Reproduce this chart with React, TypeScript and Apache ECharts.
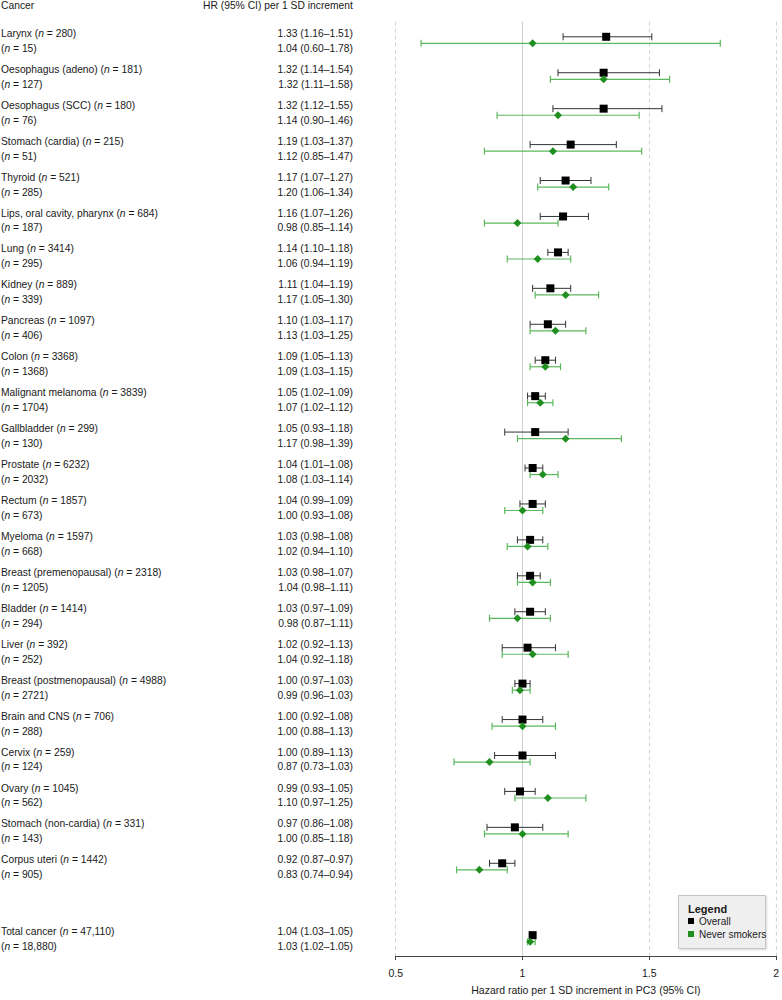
import React, { useEffect, useRef } from "react";
import * as echarts from "echarts";

const cancers = [
  "Larynx", "Oesophagus (adeno)", "Oesophagus (SCC)", "Stomach (cardia)", "Thyroid",
  "Lips, oral cavity, pharynx", "Lung", "Kidney", "Pancreas", "Colon",
  "Malignant melanoma", "Gallbladder", "Prostate", "Rectum", "Myeloma",
  "Breast (premenopausal)", "Bladder", "Liver", "Breast (postmenopausal)", "Brain and CNS",
  "Cervix", "Ovary", "Stomach (non-cardia)", "Corpus uteri", "Total cancer",
];
const nOverall = [
  "280", "181", "180", "215", "521", "684", "3414", "889", "1097", "3368",
  "3839", "299", "6232", "1857", "1597", "2318", "1414", "392", "4988", "706",
  "259", "1045", "331", "1442", "47,110",
];
const nNever = [
  "15", "127", "76", "51", "285", "187", "295", "339", "406", "1368",
  "1704", "130", "2032", "673", "668", "1205", "294", "252", "2721", "288",
  "124", "562", "143", "905", "18,880",
];
const hrOverall = [1.33, 1.32, 1.32, 1.19, 1.17, 1.16, 1.14, 1.11, 1.10, 1.09, 1.05, 1.05, 1.04, 1.04, 1.03, 1.03, 1.03, 1.02, 1.00, 1.00, 1.00, 0.99, 0.97, 0.92, 1.04];
const loOverall = [1.16, 1.14, 1.12, 1.03, 1.07, 1.07, 1.10, 1.04, 1.03, 1.05, 1.02, 0.93, 1.01, 0.99, 0.98, 0.98, 0.97, 0.92, 0.97, 0.92, 0.89, 0.93, 0.86, 0.87, 1.03];
const hiOverall = [1.51, 1.54, 1.55, 1.37, 1.27, 1.26, 1.18, 1.19, 1.17, 1.13, 1.09, 1.18, 1.08, 1.09, 1.08, 1.07, 1.09, 1.13, 1.03, 1.08, 1.13, 1.05, 1.08, 0.97, 1.05];
const hrNever = [1.04, 1.32, 1.14, 1.12, 1.20, 0.98, 1.06, 1.17, 1.13, 1.09, 1.07, 1.17, 1.08, 1.00, 1.02, 1.04, 0.98, 1.04, 0.99, 1.00, 0.87, 1.10, 1.00, 0.83, 1.03];
const loNever = [0.60, 1.11, 0.90, 0.85, 1.06, 0.85, 0.94, 1.05, 1.03, 1.03, 1.02, 0.98, 1.03, 0.93, 0.94, 0.98, 0.87, 0.92, 0.96, 0.88, 0.73, 0.97, 0.85, 0.74, 1.02];
const hiNever = [1.78, 1.58, 1.46, 1.47, 1.34, 1.14, 1.19, 1.30, 1.25, 1.15, 1.12, 1.39, 1.14, 1.08, 1.10, 1.11, 1.11, 1.18, 1.03, 1.13, 1.03, 1.25, 1.18, 0.94, 1.05];
// row slot of each group (Total cancer sits after a gap)
const rowPos = [0, 1, 2, 3, 4, 5, 6, 7, 8, 9, 10, 11, 12, 13, 14, 15, 16, 17, 18, 19, 20, 21, 22, 23, 25];
const xTicks = [0.5, 1, 1.5, 2];
const refValue = 1;

const Y_MIN = -0.42;
const Y_MAX = 25.58;
const NEVER_OFFSET = 0.183;
const FONT = "'Liberation Sans', Arial, Helvetica, sans-serif";
const TEXT_COLOR = "#1a1a1a";
const GREEN_LINE = "#5cb85c";
const GREEN_MARK = "#1f8f1f";

const fmt = (v: number, lo: number, hi: number) =>
  `${v.toFixed(2)} (${lo.toFixed(2)}\u2013${hi.toFixed(2)})`;

export default function App() {
  const ref = useRef<HTMLDivElement>(null);
  useEffect(() => {
    if (!ref.current) return;
    const chart = echarts.init(ref.current, null, { renderer: "svg" });

    const errorBar = (color: string, width: number) =>
      (params: any, api: any) => {
        const y = api.value(2);
        const p1 = api.coord([api.value(0), y]);
        const p2 = api.coord([api.value(1), y]);
        const h = 3.5;
        const st = { stroke: color, lineWidth: width, fill: "none" };
        return {
          type: "group",
          children: [
            { type: "line", shape: { x1: p1[0], y1: p1[1], x2: p2[0], y2: p2[1] }, style: st },
            { type: "line", shape: { x1: p1[0], y1: p1[1] - h, x2: p1[0], y2: p1[1] + h }, style: st },
            { type: "line", shape: { x1: p2[0], y1: p2[1] - h, x2: p2[0], y2: p2[1] + h }, style: st },
          ],
        };
      };

    const textStyle = (text: string, align: string) => ({
      text,
      fill: TEXT_COLOR,
      fontSize: 10.3,
      fontFamily: FONT,
      align,
      verticalAlign: "middle",
      textAlign: align,
      textVerticalAlign: "middle",
      rich: {
        i: { fontStyle: "italic", fontSize: 10.3, fontFamily: FONT, fill: TEXT_COLOR },
      },
    });

    const option: any = {
      animation: false,
      backgroundColor: "#ffffff",
      grid: { left: 395.7, right: 2.7, top: 21.7, bottom: 39.3, containLabel: false },
      xAxis: {
        type: "value",
        min: xTicks[0],
        max: xTicks[xTicks.length - 1],
        interval: 0.5,
        axisLine: { show: true, onZero: false, lineStyle: { color: "#444", width: 1 } },
        axisTick: { show: true, length: 4, lineStyle: { color: "#444" } },
        axisLabel: { fontSize: 10.5, color: TEXT_COLOR, fontFamily: FONT, margin: 11 },
        splitLine: { show: true, lineStyle: { type: [4, 3], color: "#d4d4d4", width: 1 } },
        name: "Hazard ratio per 1 SD increment in PC3 (95% CI)",
        nameLocation: "middle",
        nameGap: 28,
        nameTextStyle: { fontSize: 10.5, color: TEXT_COLOR, fontFamily: FONT },
      },
      yAxis: {
        type: "value",
        inverse: true,
        min: Y_MIN,
        max: Y_MAX,
        show: false,
      },
      legend: {
        left: 688,
        top: 916,
        orient: "vertical",
        itemWidth: 6,
        itemHeight: 6,
        itemGap: 3,
        padding: 0,
        icon: "rect",
        textStyle: { fontSize: 10, color: TEXT_COLOR, fontFamily: FONT },
        data: ["Overall", "Never smokers"],
      },
      graphic: [
        { type: "text", left: 1, top: 0, style: { text: "Cancer", fontSize: 10.3, fontFamily: FONT, fill: TEXT_COLOR } },
        { type: "text", left: 203, top: 0, style: { text: "HR (95% CI) per 1 SD increment", fontSize: 10.3, fontFamily: FONT, fill: TEXT_COLOR } },
        {
          type: "rect",
          left: 678,
          top: 895,
          z: 0,
          shape: { width: 87, height: 53 },
          style: { fill: "#efefef", stroke: "#c4c4c4", lineWidth: 1, shadowBlur: 2, shadowColor: "rgba(0,0,0,0.15)", shadowOffsetX: 1, shadowOffsetY: 1 },
        },
        { type: "text", left: 688, top: 903, z: 5, style: { text: "Legend", fontSize: 11, fontWeight: "bold", fontFamily: FONT, fill: TEXT_COLOR } },
      ],
      series: [
        {
          type: "custom",
          name: "labels",
          silent: true,
          z: 1,
          data: rowPos.map((p) => [0.5, p]),
          renderItem: (params: any, api: any) => {
            const i = params.dataIndex;
            const p = api.value(1);
            const yO = api.coord([0.5, p - 0.095])[1];
            const yN = api.coord([0.5, p + 0.32])[1];
            return {
              type: "group",
              children: [
                { type: "text", x: 1, y: yO, style: textStyle(`${cancers[i]} ({i|n} = ${nOverall[i]})`, "left") },
                { type: "text", x: 1, y: yN, style: textStyle(`({i|n} = ${nNever[i]})`, "left") },
                { type: "text", x: 353, y: yO, style: textStyle(fmt(hrOverall[i], loOverall[i], hiOverall[i]), "right") },
                { type: "text", x: 353, y: yN, style: textStyle(fmt(hrNever[i], loNever[i], hiNever[i]), "right") },
              ],
            };
          },
        },
        {
          type: "custom",
          name: "refline",
          silent: true,
          z: 1,
          data: [[refValue, Y_MIN, Y_MAX]],
          renderItem: (params: any, api: any) => {
            const a = api.coord([api.value(0), api.value(1)]);
            const b = api.coord([api.value(0), api.value(2)]);
            return {
              type: "line",
              shape: { x1: a[0], y1: a[1], x2: b[0], y2: b[1] },
              style: { stroke: "#cfcfcf", lineWidth: 1 },
            };
          },
        },
        {
          type: "custom",
          name: "Overall CI",
          silent: true,
          z: 2,
          data: rowPos.map((p, i) => [loOverall[i], hiOverall[i], p]),
          renderItem: errorBar("#333333", 1),
        },
        {
          type: "custom",
          name: "Never CI",
          silent: true,
          z: 2,
          data: rowPos.map((p, i) => [loNever[i], hiNever[i], p + NEVER_OFFSET]),
          renderItem: errorBar(GREEN_LINE, 1.2),
        },
        {
          type: "scatter",
          name: "Overall",
          z: 3,
          symbol: "rect",
          symbolSize: 8,
          itemStyle: { color: "#000000", opacity: 1 },
          data: rowPos.map((p, i) => [hrOverall[i], p]),
        },
        {
          type: "scatter",
          name: "Never smokers",
          z: 4,
          symbol: "diamond",
          symbolSize: [8, 8],
          itemStyle: { color: GREEN_MARK, opacity: 1 },
          data: rowPos.map((p, i) => [hrNever[i], p + NEVER_OFFSET]),
        },
      ],
    };
    chart.setOption(option);
    return () => chart.dispose();
  }, []);
  return (
    <div
      ref={ref}
      style={{ position: "absolute", left: 0, top: 0, width: 782, height: 1000 }}
    />
  );
}
